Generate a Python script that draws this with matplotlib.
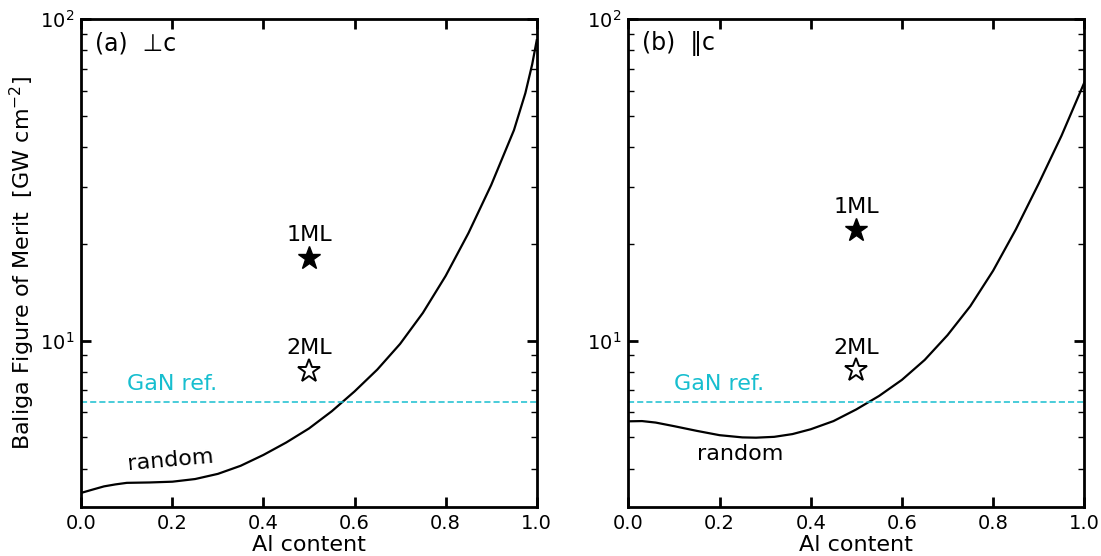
import matplotlib
matplotlib.use("Agg")
import matplotlib.pyplot as plt
from matplotlib.ticker import NullFormatter

# (Al content, Baliga FOM in GW cm^-2)
x_perp = [0.0, 0.025, 0.05, 0.075, 0.10, 0.15, 0.20, 0.25, 0.30, 0.35, 0.40,
          0.45, 0.50, 0.55, 0.60, 0.65, 0.70, 0.75, 0.80, 0.85, 0.90, 0.95,
          0.975, 0.99, 1.0]
y_perp = [3.36, 3.44, 3.52, 3.57, 3.61, 3.62, 3.64, 3.71, 3.85, 4.08, 4.41,
          4.82, 5.33, 6.03, 6.95, 8.13, 9.77, 12.2, 15.9, 21.6, 30.5, 45.2,
          58.9, 72.4, 86.1]

x_par = [0.0, 0.03, 0.06, 0.10, 0.15, 0.20, 0.25, 0.28, 0.32, 0.36, 0.40,
         0.45, 0.50, 0.55, 0.60, 0.65, 0.70, 0.75, 0.80, 0.85, 0.90, 0.95, 1.0]
y_par = [5.61, 5.62, 5.56, 5.42, 5.24, 5.08, 5.00, 4.99, 5.02, 5.12, 5.30,
         5.62, 6.11, 6.73, 7.55, 8.71, 10.4, 12.8, 16.5, 22.2, 30.8, 43.4,
         63.5]

gan_ref = 6.43
ml_x = 0.5
ml_perp = [18.1, 8.05]   # 1ML, 2ML
ml_par = [22.1, 8.1]

panel_titles = ["(a)  \u22a5c", "(b)  \u2016c"]
x_ticks = [0.0, 0.2, 0.4, 0.6, 0.8, 1.0]

cyan = "#17becf"

fig = plt.figure(figsize=(11.01, 5.56), dpi=100)
ax1 = fig.add_axes([0.0738, 0.0876, 0.4137, 0.8777])
ax2 = fig.add_axes([0.5707, 0.0876, 0.4141, 0.8777])

panels = [
    (ax1, x_perp, y_perp, ml_perp, panel_titles[0]),
    (ax2, x_par, y_par, ml_par, panel_titles[1]),
]

for ax, xs, ys, ml, title in panels:
    ax.set_yscale("log")
    ax.plot(xs, ys, color="black", lw=1.6)
    ax.axhline(gan_ref, color=cyan, ls="--", lw=1.1, dashes=(4, 2))

    # 1ML filled star, 2ML open star
    ax.plot(ml_x, ml[0], marker="*", ms=17, color="black", ls="none")
    ax.plot(ml_x, ml[1], marker="*", ms=17, mfc="white", mec="black",
            mew=1.4, ls="none")
    ax.annotate("1ML", (ml_x, ml[0]), xytext=(0, 9), textcoords="offset points",
                ha="center", va="bottom", fontsize=16)
    ax.annotate("2ML", (ml_x, ml[1]), xytext=(0, 9), textcoords="offset points",
                ha="center", va="bottom", fontsize=16)

    ax.text(0.1, 7.03, "GaN ref.", color=cyan, fontsize=16, ha="left",
            va="baseline")
    ax.text(0.03, 0.951, title, transform=ax.transAxes, fontsize=17,
            ha="left", va="center")

    ax.set_xlim(0, 1)
    ax.set_ylim(3.03, 100)
    ax.set_xticks(x_ticks)
    ax.set_xlabel("Al content", fontsize=16, labelpad=1)
    ax.yaxis.set_minor_formatter(NullFormatter())
    ax.tick_params(which="major", direction="in", top=True, right=True,
                   length=7, width=2, labelsize=14, pad=5)
    ax.tick_params(which="minor", direction="in", top=True, right=True,
                   length=4, width=1)
    for sp in ax.spines.values():
        sp.set_linewidth(2)

ax1.text(0.197, 4.23, "random", fontsize=16, ha="center", va="center",
         rotation=5)
ax2.text(0.245, 4.44, "random", fontsize=16, ha="center", va="center")

ax1.set_ylabel("Baliga Figure of Merit  [GW cm$^{-2}$]", fontsize=16)
ax1.yaxis.set_label_coords(-0.097, 0.5)

fig.savefig("out.png", dpi=100)
